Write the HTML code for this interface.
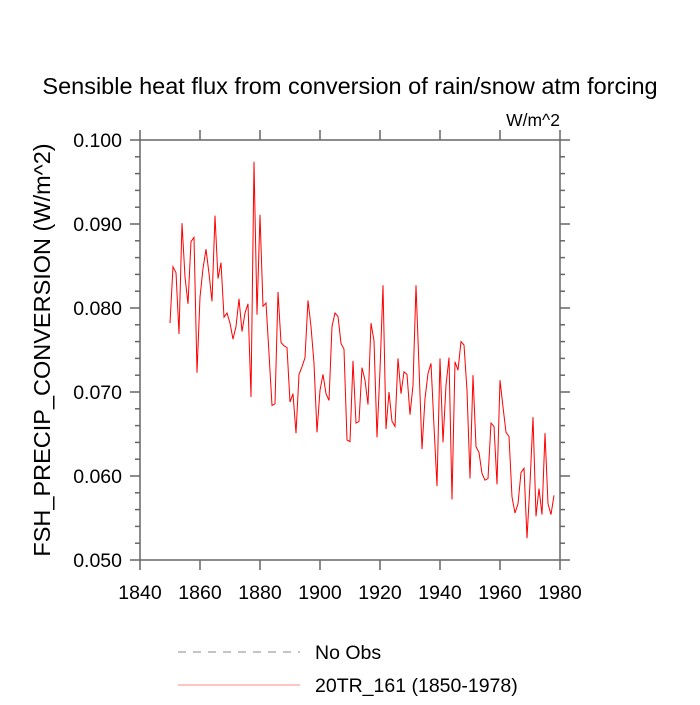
<!DOCTYPE html>
<html><head><meta charset="utf-8"><style>
body{margin:0;background:#fff}
svg text{font-family:"Liberation Sans",sans-serif;fill:#000}
</style></head><body>
<svg width="700" height="700" xmlns="http://www.w3.org/2000/svg">
<text x="350" y="94" font-size="23.5" text-anchor="middle">Sensible heat flux from conversion of rain/snow atm forcing</text>
<text x="560" y="126" font-size="17.5" text-anchor="end">W/m^2</text>
<text transform="translate(50,350) rotate(-90)" font-size="23.5" text-anchor="middle">FSH_PRECIP_CONVERSION  (W/m^2)</text>
<g id="axes"></g>
<polyline id="series" fill="none" stroke="#ff0000" stroke-width="1"/>
<rect x="140" y="140" width="420" height="420" fill="none" stroke="#666" stroke-width="1.5"/>
<line x1="178" y1="652" x2="300" y2="652" stroke="#888" stroke-dasharray="8,7"/>
<text x="315" y="659" font-size="19.5">No Obs</text>
<line x1="178" y1="685" x2="300" y2="685" stroke="#ff6060" stroke-width="0.8"/>
<text x="315" y="692" font-size="19.5">20TR_161 (1850-1978)</text>
</svg>
<script>
const startYear = 1850;
const values = [0.0782,0.0849,0.0842,0.0769,0.0901,0.0837,0.0805,0.0879,0.0884,0.0723,
0.0813,0.0847,0.0870,0.0841,0.0808,0.0910,0.0835,0.0854,0.0789,0.0794,
0.0782,0.0763,0.0778,0.0811,0.0772,0.0794,0.0805,0.0694,0.0974,0.0792,
0.0911,0.0802,0.0806,0.0746,0.0684,0.0686,0.0819,0.0759,0.0755,0.0753,
0.0688,0.0698,0.0651,0.0721,0.0730,0.0741,0.0809,0.0778,0.0734,0.0652,
0.0702,0.0721,0.0698,0.0690,0.0778,0.0794,0.0790,0.0758,0.0751,0.0643,
0.0641,0.0737,0.0663,0.0665,0.0729,0.0714,0.0685,0.0782,0.0761,0.0646,
0.0726,0.0827,0.0656,0.0700,0.0665,0.0659,0.0740,0.0698,0.0724,0.0721,
0.0673,0.0708,0.0827,0.0730,0.0632,0.0692,0.0722,0.0734,0.0659,0.0588,
0.0740,0.0640,0.0708,0.0741,0.0572,0.0736,0.0726,0.0760,0.0756,0.0702,
0.0597,0.0720,0.0635,0.0628,0.0603,0.0595,0.0597,0.0663,0.0659,0.0590,
0.0714,0.0682,0.0652,0.0647,0.0575,0.0556,0.0567,0.0604,0.0609,0.0526,
0.0591,0.0670,0.0552,0.0585,0.0554,0.0651,0.0567,0.0554,0.0577];
const xTicks = [1840,1860,1880,1900,1920,1940,1960,1980];
const yTicks = [0.050,0.060,0.070,0.080,0.090,0.100];
const yMinor = [0.052,0.054,0.056,0.058,0.062,0.064,0.066,0.068,0.072,0.074,0.076,0.078,0.082,0.084,0.086,0.088,0.092,0.094,0.096,0.098];
const X = yr => 140 + (yr-1840)/140*420;
const Y = v => 560 - (v-0.05)/0.05*420;
const NS = "http://www.w3.org/2000/svg";
const g = document.getElementById('axes');
function ln(x1,y1,x2,y2,name){const l=document.createElementNS(NS,'line');
l.setAttribute('x1',x1);l.setAttribute('y1',y1);l.setAttribute('x2',x2);l.setAttribute('y2',y2);
l.setAttribute('stroke','#666');l.setAttribute('stroke-width','1.5');


g.appendChild(l);}
function tx(x,y,s,anchor,name){const t=document.createElementNS(NS,'text');
t.setAttribute('x',x);t.setAttribute('y',y);t.setAttribute('font-size','19.5');t.setAttribute('text-anchor',anchor);t.textContent=s;


g.appendChild(t);}
xTicks.forEach(t=>{const x=X(t);ln(x,560,x,570,'x-tick');ln(x,140,x,130,'x-tick-top');tx(x,599,String(t),'middle','x-tick-label');});
yTicks.forEach(t=>{const y=Y(t);ln(140,y,130,y,'y-tick');ln(560,y,570,y,'y-tick-right');tx(122,y+7,t.toFixed(3),'end','y-tick-label');});
yMinor.forEach(t=>{const y=Y(t);ln(140,y,135,y,'y-minor-tick');ln(560,y,565,y,'y-minor-tick-right');});
document.getElementById('series').setAttribute('points',values.map((v,i)=>X(startYear+i).toFixed(1)+','+Y(v).toFixed(1)).join(' '));
</script>
</body></html>
